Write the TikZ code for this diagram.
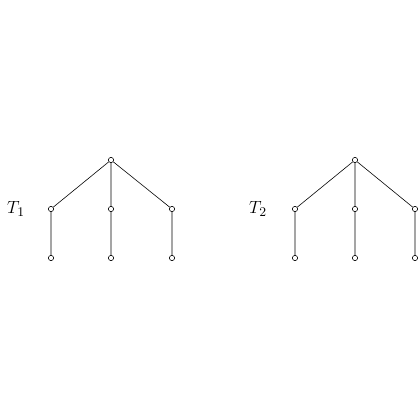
\documentclass[tikz,border=0pt]{standalone}
\begin{document}
\begin{tikzpicture}[x=0.68pt,y=-0.68pt,
  vtx/.style={circle,draw,fill=white,inner sep=0pt,minimum size=3.6pt,line width=0.4pt},
  edge/.style={line width=0.4pt},
  lbl/.style={font=\fontsize{13}{15}\selectfont}]
\useasboundingbox (0,0) rectangle (420,420);
% Tree 1
\node[vtx] (a0) at (111,160) {};
\node[vtx] (a1) at (51,209) {};
\node[vtx] (a2) at (111,209) {};
\node[vtx] (a3) at (172,209) {};
\node[vtx] (a4) at (51,258) {};
\node[vtx] (a5) at (111,258) {};
\node[vtx] (a6) at (172,258) {};
\draw[edge] (a0) -- (a1) (a0) -- (a2) (a0) -- (a3) (a1) -- (a4) (a2) -- (a5) (a3) -- (a6);
\node[lbl] (t1) at (16,209) {$T_1$};
% Tree 2
\node[vtx] (b0) at (355,160) {};
\node[vtx] (b1) at (295,209) {};
\node[vtx] (b2) at (355,209) {};
\node[vtx] (b3) at (415,209) {};
\node[vtx] (b4) at (295,258) {};
\node[vtx] (b5) at (355,258) {};
\node[vtx] (b6) at (415,258) {};
\draw[edge] (b0) -- (b1) (b0) -- (b2) (b0) -- (b3) (b1) -- (b4) (b2) -- (b5) (b3) -- (b6);
\node[lbl] (t2) at (258,209) {$T_2$};
\end{tikzpicture}
\end{document}
